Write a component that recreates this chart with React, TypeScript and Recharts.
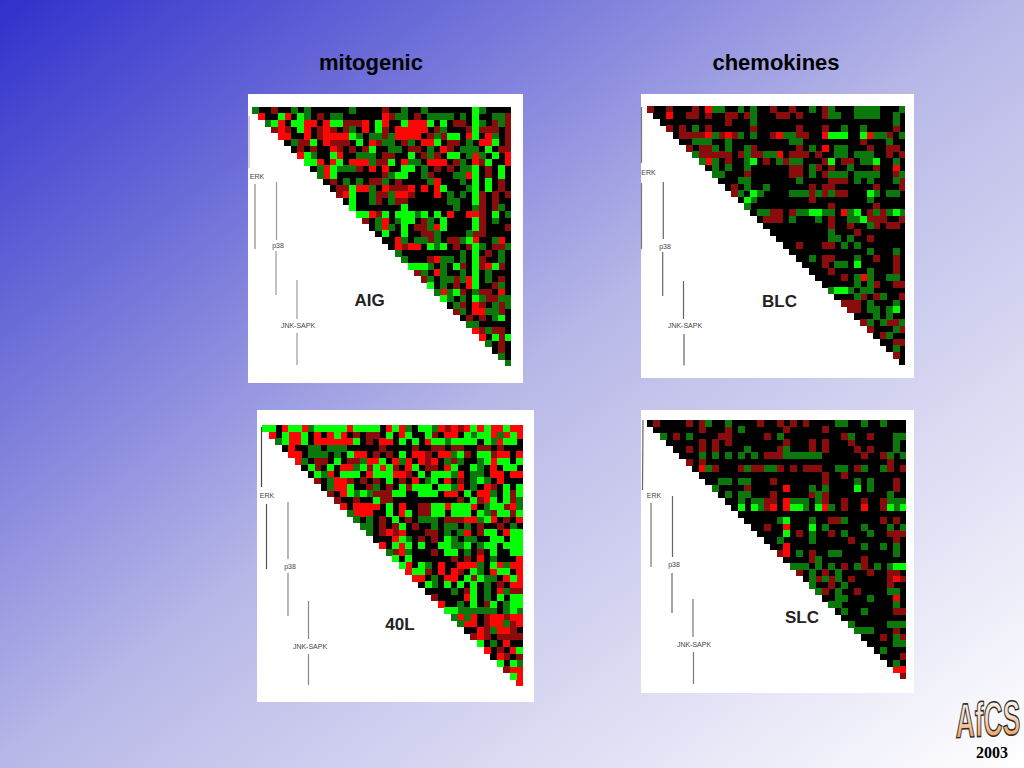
import { Scatter, ScatterChart, XAxis, YAxis } from 'recharts'

// cell levels: . none, r/R up, g/G down. "|" every ten columns, only to help reading
const aigRows = [
    'g..r..g.g.|.....g....|r..g..g...|....Gg....',
    ' R..GR.Gg.|r.gg......|Rrgg.r.ggg|g.g.G..ggr',
    '  gGR.GGRR|.RGGrrrR.G|R..GRRRG.G|.rr.Gg.rgr',
    '   rRr.GR.|rRr.rg.R.G|r.RRRRR.rg|...rGrrr.r',
    '    RR..R.|rRRRRGg.gg|rgRRRR.rgr|GG.RG.Rg.r',
    '     .grrG|.Rrrr.G.Rr|gg.rg.RRG.|rr.g.RRG.r',
    '      .r.r|..Rr.r.rG.|.gg.rr.g.R|r.ggg.G.rr',
    '       RGg|..GR..ggg.|rr..G.rgr.|GG.gRg.G.R',
    '        GG|R.RG.RRRgr|rG.Rgg.RRR|.rg.RrG..R',
    '         .|gRGgggr.R.|R..GG.g.r.|r.ggG.r.G.',
    '          |gRG.......|rgGG..gr..|.ggRG.r.G.',
    '          | .r.g.g.rr|g.r....gR.|..g.G.G.r.',
    '          |  .rrGRRg.|RrrrR.R.RG|...gG.G.r.',
    '          |   rRG..gr|rgRRr...R.|g.g.Gr.r.r',
    '          |    .G..gr|.grr......|gg..Gr.r..',
    '          |     G....|...G......|.g..gr.rg.',
    '          |      GGRr|G.GGGgG.G.|R..RRr.G.g',
    '          |       r.g|R.gGG.rg.G|....Gr.g..',
    '          |        .g|Rg.G.rrgRG|....Gr...r',
    '          |         .|G..G..rrg.|...grr....',
    '          |          |..Rg.ggrg.|rrgGR..gR.',
    '          |          | .RrRR.GgG|.r.rGg.rrg',
    '          |          |  g.......|..g.G.r.g.',
    '          |          |   g...rRg|g.g.Gr..g.',
    '          |          |    GGGg.g|.Gr.GrRGr.',
    '          |          |     rg.Rg|..g.G.g...',
    '          |          |      rg.g|grgRG.g.r.',
    '          |          |       G.g|.r.RG..rg.',
    '          |          |        gR|gGr.grr.R.',
    '          |          |         G|g.g.Ggrrgg',
    '          |          |          |.gr.Rr.grg',
    '          |          |          | rg.RRggr.',
    '          |          |          |  .r.r.gG.',
    '          |          |          |   gg.....',
    '          |          |          |    Rrgrr.',
    '          |          |          |     R.GrG',
    '          |          |          |      g.r.',
    '          |          |          |       .r.',
    '          |          |          |        g.',
    '          |          |          |         g',
]

const blcRows = [
    'r..r...r.R|gg..g.g..r|..r..g.rg.|..gggg...g',
    ' ..R..rr.r|..rr.rg...|rr.r...rgg|..gggg..g.',
    '  ........|..r...g...|..........|........g.',
    '   r.r.g.r|......r...|...r...r..|g..g....r.',
    '    .rrrrR|grRrg.g..r|Rggrr..RGG|G..GRggr.g',
    '     ..ggg|..g.......|..gg......|...r...g..',
    '      r.rr|g.g..gr...|...r.g.R.g|g...r..rr.',
    '       grr|rrr.rgrrgg|R.rrr.r..g|g.ggg..r.r',
    '        gR|g.r..gG.r.|grgg...rG.|rr.ggG..g.',
    '         .|g.g..g....|..rr.gr.r.|.g...r..R.',
    '          |gg...r....|..rr.g.rgg|g.gggg..rg',
    '          | ...gg....|...g....rr|r.g.g...gr',
    '          |  .r.g..g.|.....r.rr.|.....r...r',
    '          |   rg.Gg..|..gggrgrgr|r...Gg.gg.',
    '          |    .Gg...|.....r....|....g.....',
    '          |     g....|........r.|.....r....',
    '          |      .ggr|r.rggGGgg.|RgG.rgrgGg',
    '          |       .rr|r.g...g.r.|.ggGrrr..r',
    '          |        ..|........r.|.r..gr.rr.',
    '          |         .|........g.|..r.......',
    '          |          |........gg|.g..r.....',
    '          |          | ..r...rr.|g.g.......',
    '          |          |  ........|....g...g.',
    '          |          |   ..g.rr.|..g..r..r.',
    '          |          |    ...r.g|g.G.....r.',
    '          |          |     ...r.|....g...r.',
    '          |          |      ....|r.gRg..gg.',
    '          |          |       ...|..g.gr..rr',
    '          |          |        gG|Gg.gg.....',
    '          |          |         .|..gr.rg..r',
    '          |          |          |rrr.g...g.',
    '          |          |          | rr.gg.gG.',
    '          |          |          |  ...g.g..',
    '          |          |          |   rg.grrg',
    '          |          |          |    r...gr',
    '          |          |          |     .rg..',
    '          |          |          |      ..rr',
    '          |          |          |       .g.',
    '          |          |          |        r.',
    '          |          |          |         .',
]

const fortyLRows = [
    'GG.RGGRgGG|GGGRGGGG.R|GRg.GGgRrR|rRGRGRRGRR',
    ' R.GRRG.R.|RGR.r.rr.G|.RG..Gr.RR|.GgGGRgRGR',
    '  gGRRG.RR|RRRRG.r.RR|.G.G.RGGgG|GGG.GgRGG.',
    '   .R..gg.|ggg.....r.|...r..rr.r|r..rr.r...',
    '    RR.ggg|.g.GRR.r.r|.G.RRr.RRg|Gr.GGrRR.R',
    '     Rg.rr|.G.rrgRRG.|RgR.RrR.gr|g..gGRGG.G',
    '      .Gr.|G.RRgGrGRG|r.RG.rr.RG|..Gg.R.GG.',
    '       .Gg|R.GGG.RGGG|RRr.G.GGGg|R.gg.RR.RR',
    '        r.|gRRr.r.r.G|.r.R.gG.R.|r.gGg.R...',
    '         .|gRRG..rg.r|.GrGGG.GGg|R.g.Rr.G.G',
    '          |r.RGgGgrrr|GG..GGG.RR|.G.RRg.GrG',
    '          | r..r..Grr|..........|r.GrRG.Grg',
    '          |  R.RRRR.G|.R..rrGGRG|GGR.gGGrRg',
    '          |   gRRR..G|.RG.rrGG.G|GG.GgrGGrG',
    '          |    g.g.r.|G.r.ggg.rr|rRRgGR.r.R',
    '          |     gg.r.|rG.r..g.gg|.g.r..r.g.',
    '          |      g.rR|rR...rr.g.|gR.rGG.RGG',
    '          |       ...|RGg.r.r.Gg|.gg..GG.GG',
    '          |        R.|GRG.G..GGg|gG.gGG.GGG',
    '          |         g|rRg...r.GG|.g.r.G..GG',
    '          |          |G.G......r|.r.R.g...R',
    '          |          | GR.Gg.R..|RRRg.GRgRR',
    '          |          |  RGGr.R.R|r.Gg.RGG.R',
    '          |          |   RR.g.RR|.GrGgg.RGR',
    '          |          |    .Gg.G.|G.G.g.r.RR',
    '          |          |     ....g|.rG.g.Rgrr',
    '          |          |      r...|.RG.g.G.GG',
    '          |          |       R..|g.G.rG.gGG',
    '          |          |        GG|gggggg.gGg',
    '          |          |         g|RgR.rRRrRR',
    '          |          |          |gRR.rRRgrR',
    '          |          |          | ..RrgRRr.',
    '          |          |          |  rRr.rrrr',
    '          |          |          |   G.g.R..',
    '          |          |          |    R.r.RG',
    '          |          |          |     .Rr.r',
    '          |          |          |      G.Gg',
    '          |          |          |       rRR',
    '          |          |          |        GR',
    '          |          |          |         R',
]

const slcRows = [
    '.r....r.rg|..g....r..|r.r.r....g|g..g..g...',
    ' .......r.|..r.g.....|.r.....r..|..........',
    '  g.r.g...|.rr.....r.|g.........|rg..r...gg',
    '   .....r.|r.r.......|.r...r.r..|.r......g.',
    '    ..r.r.|r....g....|rg...r.r..|..r.r...g.',
    '     ...g.|g.g.g.g.rr|rgggggg...|...r..rg.g',
    '      r.r.|..........|..........|.......r..',
    '       .Rg|r...rgrrgg|r.r.rrr..g|g.rg..gr.r',
    '        ..|..........|.......r..|r.........',
    '         .|.gg.gg...r|.......r..|..g.g...r.',
    '          |g....r....|.R...g.g..|..G.g...r.',
    '          | .g.gg...r|.....rgr..|.......g..',
    '          |  ..g.ggrr|.Rggg.gr..|r..r..rggg',
    '          |   .G.GgrR|.RGGg.GRg.|r..R..rGgG',
    '          |    ......|..........|..........',
    '          |     .....|gG...g..rr|g.....r.r.',
    '          |      ..r.|.R...G.g..|...g...g.g',
    '          |       ...|.G.r.g..r.|g...g..rrr',
    '          |        ..|g....g....|.r......r.',
    '          |         .|.R........|...g..g.g.',
    '          |          |rR.g.r..gg|........g.',
    '          |          | ....rg...|...r......',
    '          |          |  ggg.g.g.|r.gr.g.gGG',
    '          |          |   r.g.r.g|....r..rr.',
    '          |          |    .grgrg|.r.....rRr',
    '          |          |     g..r.|g......r..',
    '          |          |      gr.g|..r....gg.',
    '          |          |       ..g|g...g...R.',
    '          |          |        gg|........g.',
    '          |          |         .|g..g....rr',
    '          |          |          |..........',
    '          |          |          | g.....ggg',
    '          |          |          |  ggg...r.',
    '          |          |          |   ...r.gr',
    '          |          |          |    ....gg',
    '          |          |          |     .g...',
    '          |          |          |      ...r',
    '          |          |          |       .g.',
    '          |          |          |        RR',
    '          |          |          |         r',
]

const levelCodes = ['.', 'r', 'R', 'g', 'G']
const levelColors = ['#000000', '#8a0c0c', '#ff0505', '#0c780c', '#05ff05']
const columnCount = 40

const headings = ['mitogenic', 'chemokines']
const pathwayLabels = ['ERK', 'p38', 'JNK-SAPK']

function cellsOf(rows: string[], code: string) {
    const cells: { x: number; y: number }[] = []
    rows.forEach((raw, rowIndex) => {
        const row = raw.replace(/\|/g, '')
        for (let col = rowIndex; col < columnCount; col++) {
            const value = row[col] === ' ' || row[col] === undefined ? '.' : row[col]
            if (value === code) cells.push({ x: col + 0.5, y: rowIndex + 0.5 })
        }
    })
    return cells
}

type HeatmapProps = {
    rows: string[]
    left: number
    top: number
    size: number
}

function Heatmap({ rows, left, top, size }: HeatmapProps) {
    const cell = size / columnCount
    const square = (props: any) => (
        <rect
            x={props.cx - cell / 2}
            y={props.cy - cell / 2}
            width={cell + 0.5}
            height={cell + 0.5}
            fill={props.fill}
            shapeRendering="crispEdges"
        />
    )
    // the source picture is a soft upscaled bitmap
    return (
        <div style={{ position: 'absolute', left, top, filter: 'blur(0.55px)' }}>
            <ScatterChart width={size} height={size} margin={{ top: 0, right: 0, bottom: 0, left: 0 }}>
                <XAxis type="number" dataKey="x" domain={[0, columnCount]} hide />
                <YAxis type="number" dataKey="y" domain={[0, columnCount]} reversed hide />
                {levelCodes.map((code, i) => (
                    <Scatter key={code} data={cellsOf(rows, code)} fill={levelColors[i]} shape={square} isAnimationActive={false} />
                ))}
            </ScatterChart>
        </div>
    )
}

type PanelLayout = {
    box: [number, number, number, number]
    grid: [number, number, number]
    name: string
    nameAt: [number, number]
    labelsAt: [number, number][]
    lines: [number, number, number, number, string][]
    rows: string[]
}

const panels: PanelLayout[] = [
    {
        box: [248, 94, 275, 289],
        grid: [252, 107, 259.4],
        name: 'AIG',
        nameAt: [369.5, 300],
        labelsAt: [[257, 176.5], [278, 246], [298, 326]],
        lines: [
            [249, 116, 249, 168, '#bbbbbb'],
            [255, 184, 255, 249, '#888888'],
            [276.5, 182, 276.5, 240, '#999999'],
            [276, 251, 276, 295, '#999999'],
            [297, 280, 297, 319, '#999999'],
            [297, 333, 297, 365, '#999999'],
        ],
        rows: aigRows,
    },
    {
        box: [641, 94, 273, 284],
        grid: [646.5, 106.3, 258.6],
        name: 'BLC',
        nameAt: [779.5, 301],
        labelsAt: [[648.5, 173], [665, 247], [685, 326]],
        lines: [
            [641.5, 107, 641.5, 163, '#777777'],
            [641.5, 183, 641.5, 249, '#777777'],
            [663.3, 182, 663.3, 239, '#666666'],
            [662.7, 252, 662.7, 296, '#666666'],
            [683.5, 281, 683.5, 319, '#666666'],
            [684, 334, 684, 365.5, '#666666'],
        ],
        rows: blcRows,
    },
    {
        box: [257, 410, 277, 292],
        grid: [262, 425, 260.6],
        name: '40L',
        nameAt: [400, 624],
        labelsAt: [[267, 496], [290, 567], [310, 647]],
        lines: [
            [261.5, 427, 261.5, 487, '#444444'],
            [266.5, 504, 266.5, 569, '#555555'],
            [288, 502, 288, 559, '#888888'],
            [288, 573, 288, 616, '#888888'],
            [308.5, 601, 308.5, 639, '#888888'],
            [308.5, 654, 308.5, 685, '#888888'],
        ],
        rows: fortyLRows,
    },
    {
        box: [641, 410, 273, 283],
        grid: [646.7, 420, 259.2],
        name: 'SLC',
        nameAt: [802, 617],
        labelsAt: [[654, 496], [674, 565], [694, 645]],
        lines: [
            [643, 420, 642.5, 490, '#666666'],
            [651, 503, 651, 567, '#777777'],
            [672.5, 496, 672.5, 557, '#666666'],
            [672, 573, 672, 613, '#666666'],
            [693, 599, 693, 637, '#777777'],
            [693.5, 652, 693.5, 684, '#777777'],
        ],
        rows: slcRows,
    },
]

export default function App() {
    return (
        <div
            style={{
                position: 'absolute',
                left: 0,
                top: 0,
                width: 1024,
                height: 768,
                overflow: 'hidden',
                background: 'linear-gradient(to bottom right, #3030cc 0%, #b8b8e8 50%, #ffffff 100%)',
            }}
        >
            {panels.map((p) => (
                <div
                    key={p.name + 'box'}
                    style={{ position: 'absolute', left: p.box[0], top: p.box[1], width: p.box[2], height: p.box[3], background: '#ffffff' }}
                />
            ))}
            {panels.map((p) => (
                <Heatmap key={p.name} rows={p.rows} left={p.grid[0]} top={p.grid[1]} size={p.grid[2]} />
            ))}
            <svg width={1024} height={768} style={{ position: 'absolute', left: 0, top: 0 }}>
                <defs>
                    <linearGradient id="logoFill" x1="0" y1="0" x2="0" y2="1">
                        <stop offset="0%" stopColor="#ffffff" />
                        <stop offset="45%" stopColor="#f7dcc4" />
                        <stop offset="100%" stopColor="#f08a30" />
                    </linearGradient>
                </defs>
                <g fontFamily="Liberation Sans" textAnchor="middle">
                    <text x={371} y={69.5} fontSize={22} fontWeight="bold" fill="#000">{headings[0]}</text>
                    <text x={776} y={69.5} fontSize={22} fontWeight="bold" fill="#000">{headings[1]}</text>
                    {panels.map((p) => (
                        <g key={p.name}>
                            {p.lines.map((l, i) => (
                                <line key={i} x1={l[0]} y1={l[1]} x2={l[2]} y2={l[3]} stroke={l[4]} strokeWidth={1.2} />
                            ))}
                            {p.labelsAt.map((at, i) => (
                                <text key={i} x={at[0]} y={at[1] + 2.4} fontSize={7} fill="#444">{pathwayLabels[i]}</text>
                            ))}
                            <text x={p.nameAt[0]} y={p.nameAt[1] + 6} fontSize={17} fontWeight="bold" fill="#222">{p.name}</text>
                        </g>
                    ))}
                    <text
                        transform="translate(988 736) skewY(-3) scale(0.88 1.62)"
                        fontSize={30}
                        fontWeight="bold"
                        fill="url(#logoFill)"
                        stroke="#2a2a2a"
                        strokeWidth={1.2}
                        vectorEffect="non-scaling-stroke"
                    >
                        AfCS
                    </text>
                    <text x={992} y={758} fontSize={16} fontWeight="bold" fontFamily="Liberation Serif" fill="#000">2003</text>
                </g>
            </svg>
        </div>
    )
}
